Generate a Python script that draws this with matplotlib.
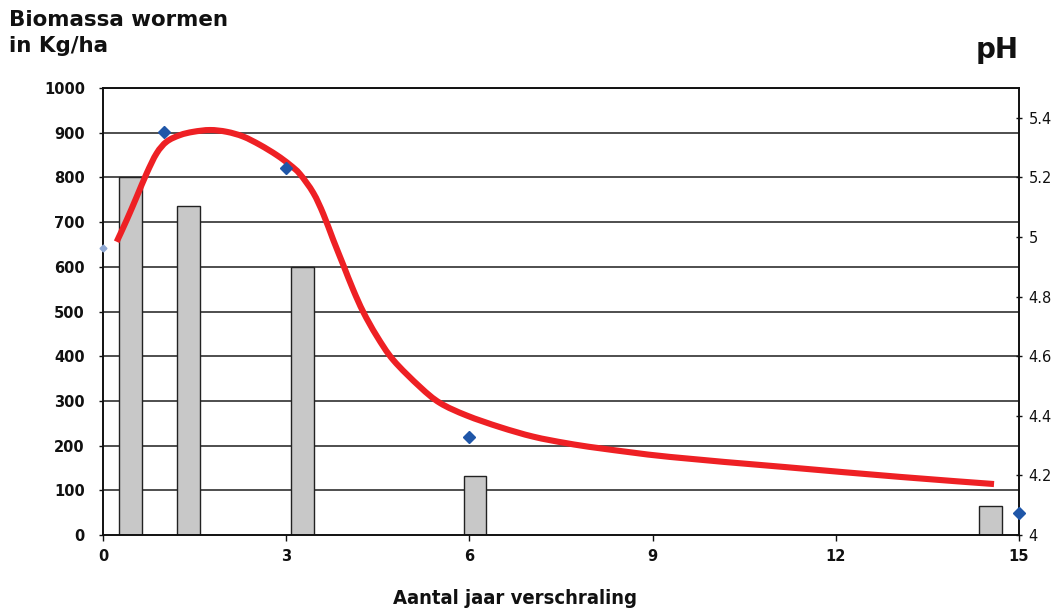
import matplotlib
matplotlib.use("Agg")
import matplotlib.pyplot as plt
from matplotlib.path import Path
from matplotlib.patches import PathPatch
import numpy as np

# ---------------- data ----------------
bar_x = [0.45, 1.40, 3.27, 6.09, 14.53]
biomassa = [800, 735, 600, 133, 65]

ph_x = [1, 3, 6, 15]
ph_vals = [5.352, 5.232, 4.330, 4.074]
ph0_x = [0]
ph0_vals = [4.963]

curve_x = [0.224, 0.388, 0.552, 0.716, 0.879, 1.043, 1.261, 1.479, 1.752, 2.026,
           2.297, 2.571, 2.844, 3.062, 3.226, 3.444, 3.608, 3.771, 3.935, 4.099,
           4.263, 4.482, 4.754, 5.191, 5.519, 5.956, 6.501, 7.046, 7.593, 8.139,
           9.285, 11.168, 13.051, 14.591]
curve_ph = [4.984, 5.057, 5.135, 5.214, 5.281, 5.320, 5.342, 5.353, 5.359, 5.353,
            5.337, 5.309, 5.275, 5.242, 5.211, 5.148, 5.077, 4.990, 4.906, 4.822,
            4.748, 4.668, 4.587, 4.497, 4.443, 4.401, 4.362, 4.330, 4.308, 4.291,
            4.262, 4.228, 4.195, 4.171]

left_ticks = list(range(0, 1001, 100))
right_ticks = [4.0, 4.2, 4.4, 4.6, 4.8, 5.0, 5.2, 5.4]
right_labels = ["4", "4.2", "4.4", "4.6", "4.8", "5", "5.2", "5.4"]
x_ticks = [0, 3, 6, 9, 12, 15]

title_line1 = "Biomassa wormen"
title_line2 = "in Kg/ha"
title_right = "pH"
xlabel = "Aantal jaar verschraling"

# ---------------- figure ----------------
plt.rcParams['font.family'] = ['DejaVu Sans']
W, H = 1053, 612
fig = plt.figure(figsize=(W / 100, H / 100), dpi=100)
ax = fig.add_axes([103 / W, 1 - 535 / H, (1019 - 103) / W, (535 - 88) / H])

grid_c = '#404040'
for v in left_ticks[1:]:
    ax.axhline(v, color=grid_c, lw=1.3, zorder=1)

ax.bar(bar_x, biomassa, width=0.37, color='#c8c8c8', edgecolor='#222222',
       linewidth=1.0, zorder=2)

ax.set_xlim(0, 15)
ax.set_ylim(0, 1000)
ax.set_yticks(left_ticks)
ax.set_xticks(x_ticks)
ax.tick_params(axis='y', length=3, width=1, pad=10, labelsize=10.5, colors='#111111')
ax.tick_params(axis='x', length=4, width=1, pad=6, labelsize=10.5, colors='#111111')
for lab in ax.get_yticklabels() + ax.get_xticklabels():
    lab.set_fontweight('bold')
for s in ['left', 'bottom', 'top', 'right']:
    ax.spines[s].set_color('#111111')
    ax.spines[s].set_linewidth(1.2)

ax2 = ax.twinx()
ax2.set_ylim(4.0, 5.5)
ax2.set_yticks(right_ticks)
ax2.set_yticklabels(right_labels)
ax2.tick_params(axis='y', direction='inout', length=5, width=1, pad=4.5,
                labelsize=10.5, colors='#111111')
for s in ['left', 'bottom', 'top', 'right']:
    ax2.spines[s].set_color('#111111')
    ax2.spines[s].set_linewidth(1.2)

# smooth curve (Catmull-Rom -> cubic Bezier) through the read points
pts = np.column_stack([curve_x, curve_ph])
ext = np.vstack([pts[0], pts, pts[-1]])
verts = [tuple(pts[0])]
codes = [Path.MOVETO]
for i in range(1, len(ext) - 2):
    p0, p1, p2, p3 = ext[i - 1], ext[i], ext[i + 1], ext[i + 2]
    c1 = p1 + (p2 - p0) / 6.0
    c2 = p2 - (p3 - p1) / 6.0
    verts += [tuple(c1), tuple(c2), tuple(p2)]
    codes += [Path.CURVE4] * 3
patch = PathPatch(Path(verts, codes), facecolor='none', edgecolor='#ee2024',
                  lw=4.4, capstyle='butt', joinstyle='round', zorder=3,
                  transform=ax2.transData)
ax2.add_patch(patch)

ax2.plot(ph_x, ph_vals, linestyle='none', marker='D', markersize=6.5,
         color='#1f56a8', clip_on=False, zorder=4)
ax2.plot(ph0_x, ph0_vals, linestyle='none', marker='D', markersize=3.5,
         color='#8fa8d4', clip_on=False, zorder=4)

fig.text(9 / W, 1 - 26 / H, title_line1, ha='left', va='baseline', fontsize=15.4,
         fontweight='bold', color='#111111')
fig.text(9 / W, 1 - 52 / H, title_line2, ha='left', va='baseline', fontsize=15.4,
         fontweight='bold', color='#111111')
fig.text(1019 / W, 1 - 58.5 / H, title_right, ha='right', va='baseline', fontsize=20,
         fontweight='bold', color='#111111')
fig.text(515 / W, 1 - 604 / H, xlabel, ha='center', va='baseline', fontsize=14.5,
         fontweight='bold', fontstretch='condensed', color='#111111')

fig.savefig('out.png', dpi=100)
